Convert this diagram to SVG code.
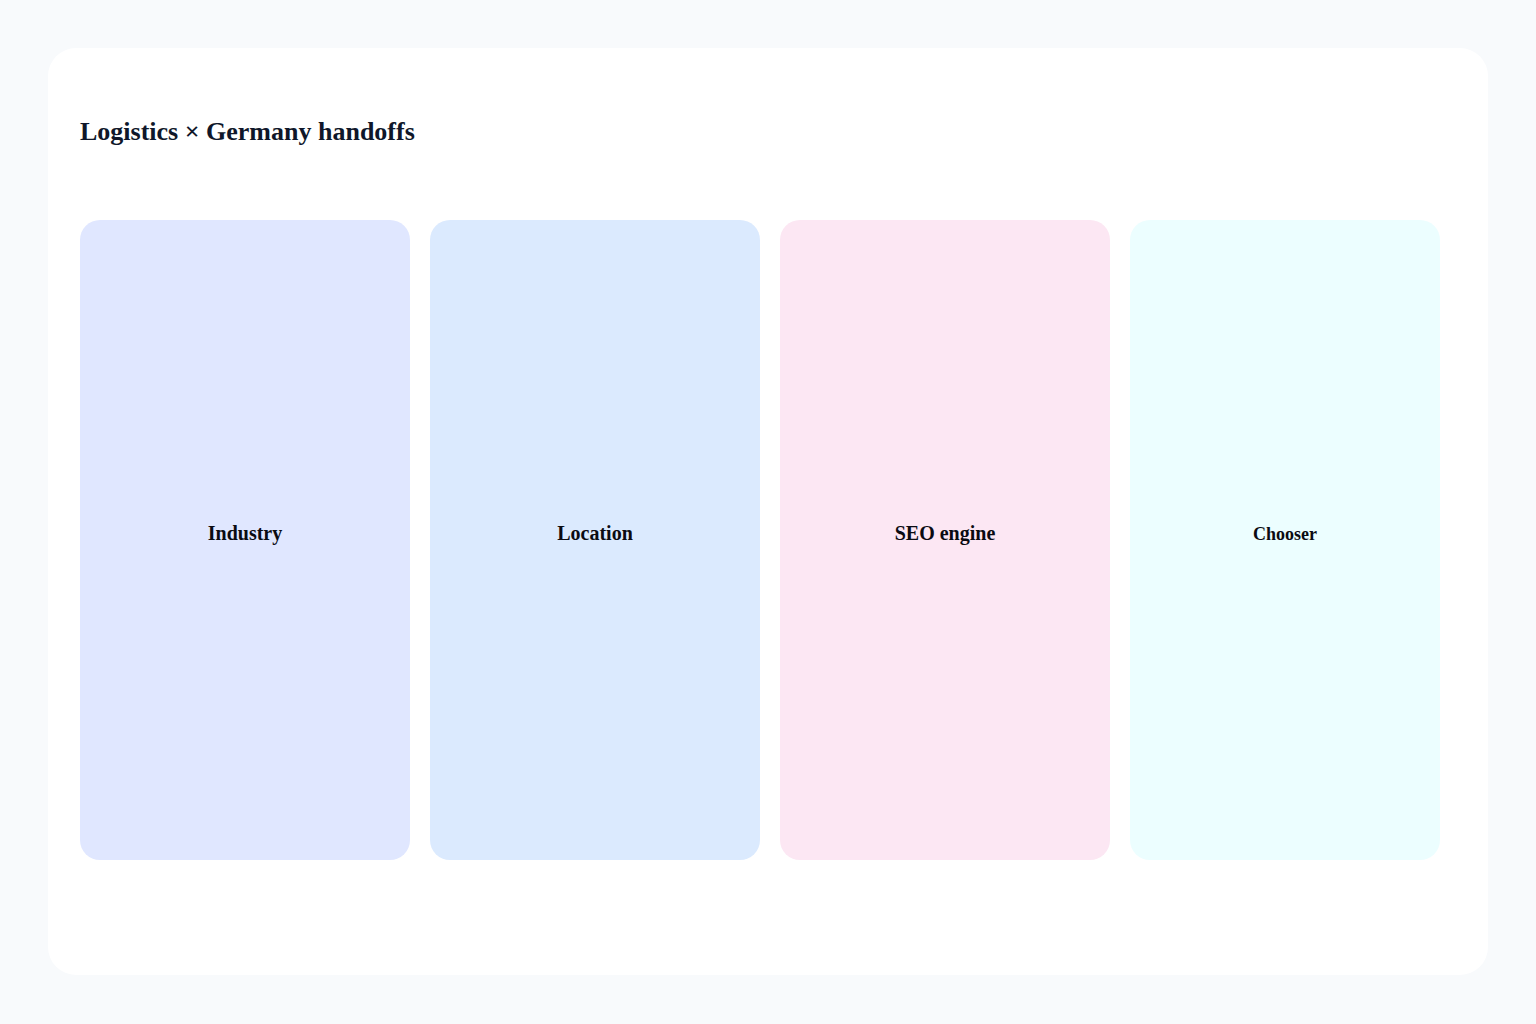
<svg xmlns="http://www.w3.org/2000/svg" width="1536" height="1024" viewBox="0 0 1536 1024">
<style>
.lbl{font-family:"Liberation Serif","Times New Roman",serif;font-weight:bold;fill:#0b0b12;text-anchor:middle}
.title{font-family:"Liberation Serif","Times New Roman",serif;font-weight:bold;font-size:26px;fill:#0f172a}
</style>
<rect x="0" y="0" width="1536" height="1024" fill="#f8fafc"/>
<rect x="48" y="48" width="1440" height="927" rx="28" fill="#ffffff"/>
<text class="title" x="80" y="140">Logistics × Germany handoffs</text>
<g id="connectors"></g>
<g id="industry">
<rect x="80" y="220" width="330" height="640" rx="20" fill="#e0e7ff"/>
<text class="lbl" x="245" y="540" font-size="20">Industry</text>
</g>
<g id="location">
<rect x="430" y="220" width="330" height="640" rx="20" fill="#dbeafe"/>
<text class="lbl" x="595" y="540" font-size="20">Location</text>
</g>
<g id="seo-engine">
<rect x="780" y="220" width="330" height="640" rx="20" fill="#fce7f3"/>
<text class="lbl" x="945" y="540" font-size="20">SEO engine</text>
</g>
<g id="chooser">
<rect x="1130" y="220" width="310" height="640" rx="20" fill="#ecfeff"/>
<text class="lbl" x="1285" y="540" font-size="18">Chooser</text>
</g>
</svg>
